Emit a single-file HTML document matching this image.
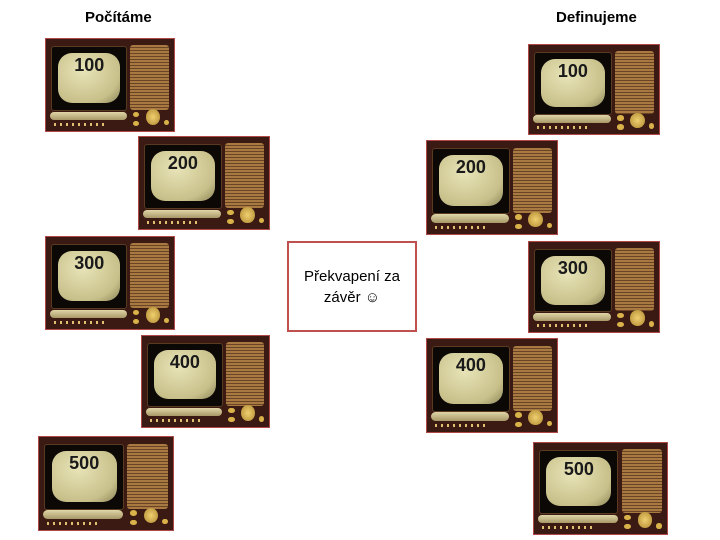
<!DOCTYPE html><html><head><meta charset="utf-8"><style>
body{margin:0;width:720px;height:540px;background:#fff;position:relative;overflow:hidden;font-family:"Liberation Sans",sans-serif}
.h{position:absolute;font-weight:bold;font-size:15px;color:#000}
.tv{position:absolute;background:#3a1a12;border:1px solid #b04848;box-sizing:border-box}
.tv .bz{position:absolute;left:4%;top:8%;width:58%;height:68%;background:#0c0806;border:1px solid #5a3a20;border-radius:3px}
.tv .sc{position:absolute;left:8%;top:9%;width:84%;height:80%;background:radial-gradient(ellipse at 40% 35%,#e8e4b8,#c8c08a 70%,#8a8458);border-radius:14px;text-align:center;font-weight:bold;font-size:18px;color:#1a1a1a;padding-top:3%;box-sizing:border-box}
.tv .gr{position:absolute;left:66%;top:7%;width:30%;height:70%;background:repeating-linear-gradient(#a87a42 0 2px,#6a4424 2px 3px);border-radius:3px}
.tv .bar{position:absolute;left:3%;top:79%;width:60%;height:9%;background:linear-gradient(#e0d6a8,#a89868);border-radius:5px}
.tv .dots{position:absolute;left:6%;top:91%;width:40%;height:3px;background:repeating-linear-gradient(90deg,#e0c070 0 2px,transparent 2px 6px)}
.tv .k1{position:absolute;left:68%;top:79%;width:5%;height:6%;background:#d9b24a;border-radius:50%}
.tv .k2{position:absolute;left:68%;top:89%;width:5%;height:6%;background:#d9b24a;border-radius:50%}
.tv .kb{position:absolute;left:78%;top:76%;width:11%;height:17%;background:radial-gradient(#f0d070,#b08830);border-radius:50%}
.tv .k3{position:absolute;left:92%;top:88%;width:4%;height:6%;background:#d9b24a;border-radius:50%}
.box{position:absolute;left:287px;top:241px;width:130px;height:91px;border:2px solid #c0504d;box-sizing:border-box;text-align:center;font-size:15px;line-height:21px;padding-top:23px}
</style></head><body>
<div class="h" style="left:85px;top:9px">Počítáme</div>
<div class="h" style="left:556px;top:9px">Definujeme</div>
<div class="box">Překvapení za<br>závěr ☺</div>
<div class="tv" style="left:45px;top:38px;width:130px;height:94px"><div class="bz"><div class="sc">100</div></div><div class="gr"></div><div class="bar"></div><div class="dots"></div><div class="k1"></div><div class="k2"></div><div class="kb"></div><div class="k3"></div></div>
<div class="tv" style="left:138px;top:136px;width:132px;height:94px"><div class="bz"><div class="sc">200</div></div><div class="gr"></div><div class="bar"></div><div class="dots"></div><div class="k1"></div><div class="k2"></div><div class="kb"></div><div class="k3"></div></div>
<div class="tv" style="left:45px;top:236px;width:130px;height:94px"><div class="bz"><div class="sc">300</div></div><div class="gr"></div><div class="bar"></div><div class="dots"></div><div class="k1"></div><div class="k2"></div><div class="kb"></div><div class="k3"></div></div>
<div class="tv" style="left:141px;top:335px;width:129px;height:93px"><div class="bz"><div class="sc">400</div></div><div class="gr"></div><div class="bar"></div><div class="dots"></div><div class="k1"></div><div class="k2"></div><div class="kb"></div><div class="k3"></div></div>
<div class="tv" style="left:38px;top:436px;width:136px;height:95px"><div class="bz"><div class="sc">500</div></div><div class="gr"></div><div class="bar"></div><div class="dots"></div><div class="k1"></div><div class="k2"></div><div class="kb"></div><div class="k3"></div></div>
<div class="tv" style="left:528px;top:44px;width:132px;height:91px"><div class="bz"><div class="sc">100</div></div><div class="gr"></div><div class="bar"></div><div class="dots"></div><div class="k1"></div><div class="k2"></div><div class="kb"></div><div class="k3"></div></div>
<div class="tv" style="left:426px;top:140px;width:132px;height:95px"><div class="bz"><div class="sc">200</div></div><div class="gr"></div><div class="bar"></div><div class="dots"></div><div class="k1"></div><div class="k2"></div><div class="kb"></div><div class="k3"></div></div>
<div class="tv" style="left:528px;top:241px;width:132px;height:92px"><div class="bz"><div class="sc">300</div></div><div class="gr"></div><div class="bar"></div><div class="dots"></div><div class="k1"></div><div class="k2"></div><div class="kb"></div><div class="k3"></div></div>
<div class="tv" style="left:426px;top:338px;width:132px;height:95px"><div class="bz"><div class="sc">400</div></div><div class="gr"></div><div class="bar"></div><div class="dots"></div><div class="k1"></div><div class="k2"></div><div class="kb"></div><div class="k3"></div></div>
<div class="tv" style="left:533px;top:442px;width:135px;height:93px"><div class="bz"><div class="sc">500</div></div><div class="gr"></div><div class="bar"></div><div class="dots"></div><div class="k1"></div><div class="k2"></div><div class="kb"></div><div class="k3"></div></div>
</body></html>
